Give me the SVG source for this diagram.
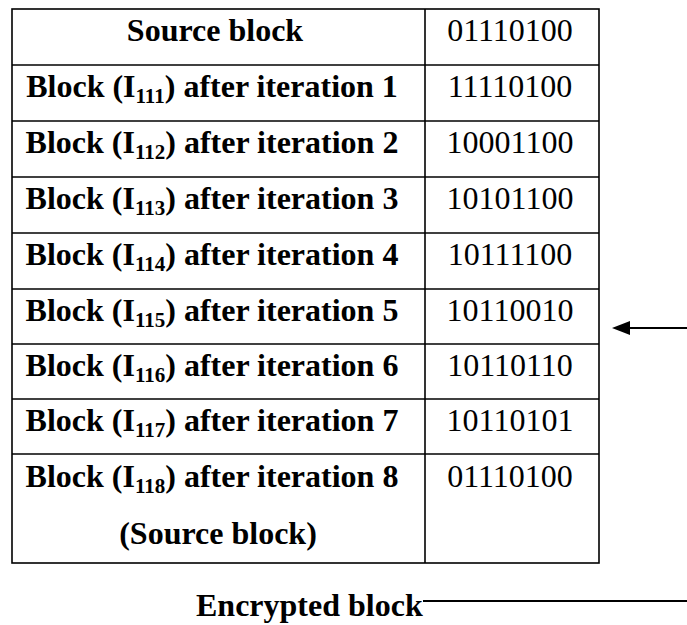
<svg xmlns="http://www.w3.org/2000/svg" width="687" height="625" viewBox="0 0 687 625">
<style>
.grid{stroke:#000;stroke-width:1.6;fill:none}
.lbl{font-family:"Liberation Serif","Times New Roman",serif;font-weight:bold;font-size:32px;fill:#000;text-anchor:middle}
.val{font-family:"Liberation Serif","Times New Roman",serif;font-size:32px;fill:#000;text-anchor:middle}
.sub{font-size:21px}
.conn{stroke:#000;stroke-width:2;fill:none}
</style>
<rect width="687" height="625" fill="#fff"/>
<g id="table">
<g id="grid" class="grid">
<rect x="12" y="9" width="587" height="554"/>
<line x1="425" y1="9" x2="425" y2="563"/>
<line x1="12" y1="65" x2="599" y2="65"/>
<line x1="12" y1="121" x2="599" y2="121"/>
<line x1="12" y1="177" x2="599" y2="177"/>
<line x1="12" y1="233" x2="599" y2="233"/>
<line x1="12" y1="289" x2="599" y2="289"/>
<line x1="12" y1="344" x2="599" y2="344"/>
<line x1="12" y1="399" x2="599" y2="399"/>
<line x1="12" y1="454" x2="599" y2="454"/>
</g>
<g id="row0"><text class="lbl" x="215" y="41">Source block</text><text class="val" x="510" y="41">01110100</text></g>
<g id="row1"><text class="lbl" x="212" y="97">Block (I<tspan class="sub" dy="6">111</tspan><tspan dy="-6">) after iteration 1</tspan></text><text class="val" x="510" y="97">11110100</text></g>
<g id="row2"><text class="lbl" x="212" y="153">Block (I<tspan class="sub" dy="6">112</tspan><tspan dy="-6">) after iteration 2</tspan></text><text class="val" x="510" y="153">10001100</text></g>
<g id="row3"><text class="lbl" x="212" y="209">Block (I<tspan class="sub" dy="6">113</tspan><tspan dy="-6">) after iteration 3</tspan></text><text class="val" x="510" y="209">10101100</text></g>
<g id="row4"><text class="lbl" x="212" y="265">Block (I<tspan class="sub" dy="6">114</tspan><tspan dy="-6">) after iteration 4</tspan></text><text class="val" x="510" y="265">10111100</text></g>
<g id="row5"><text class="lbl" x="212" y="321">Block (I<tspan class="sub" dy="6">115</tspan><tspan dy="-6">) after iteration 5</tspan></text><text class="val" x="510" y="321">10110010</text></g>
<g id="row6"><text class="lbl" x="212" y="376">Block (I<tspan class="sub" dy="6">116</tspan><tspan dy="-6">) after iteration 6</tspan></text><text class="val" x="510" y="376">10110110</text></g>
<g id="row7"><text class="lbl" x="212" y="431">Block (I<tspan class="sub" dy="6">117</tspan><tspan dy="-6">) after iteration 7</tspan></text><text class="val" x="510" y="431">10110101</text></g>
<g id="row8"><text class="lbl" x="212" y="487">Block (I<tspan class="sub" dy="6">118</tspan><tspan dy="-6">) after iteration 8</tspan></text><text class="lbl" x="218" y="544">(Source block)</text><text class="val" x="510" y="487">01110100</text></g>
</g>
<g id="encrypted"><text class="lbl" x="196" y="616" style="text-anchor:start">Encrypted block</text></g>
<g id="connectors">
<line class="conn" x1="687" y1="328" x2="626" y2="328"/>
<polygon points="612,328 630,321 630,335" fill="#000"/>
<line class="conn" x1="423" y1="601" x2="687" y2="601"/>
</g>
</svg>
